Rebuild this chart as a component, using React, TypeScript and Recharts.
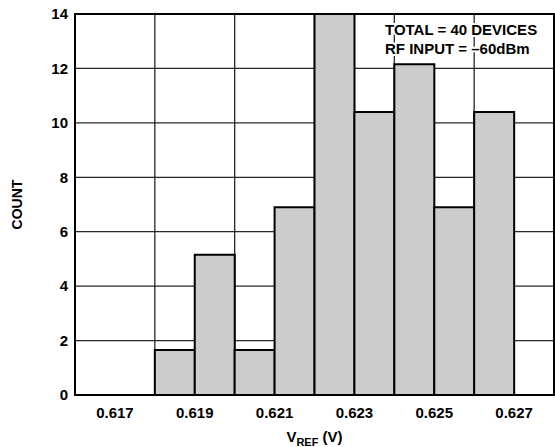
import { ComposedChart, Bar, XAxis, YAxis, CartesianGrid, ReferenceArea } from 'recharts';

// histogram bins, 1 mV wide, given by their centre voltage
const BIN_CENTERS = [0.6165, 0.6175, 0.6185, 0.6195, 0.6205, 0.6215, 0.6225, 0.6235, 0.6245, 0.6255, 0.6265, 0.6275];
const COUNTS = [0, 0, 1.65, 5.15, 1.65, 6.9, 14, 10.4, 12.15, 6.9, 10.4, 0];

const X_DOMAIN = [0.616, 0.628];
const X_TICKS = [0.617, 0.619, 0.621, 0.623, 0.625, 0.627];
const X_GRID = [0.618, 0.62, 0.622, 0.624, 0.626];
const Y_DOMAIN = [0, 14];
const Y_TICKS = [0, 2, 4, 6, 8, 10, 12, 14];
const Y_GRID = [2, 4, 6, 8, 10, 12];

const NOTES = ['TOTAL = 40 DEVICES', 'RF INPUT = \u201360dBm'];

const FONT = '"Liberation Sans", Arial, sans-serif';

const data = BIN_CENTERS.map((v, i) => ({ v, count: COUNTS[i] }));

const tickStyle = { fontSize: 15, fontWeight: 700, fill: '#000', fontFamily: FONT };

function XLabel(props: any) {
  const vb = props.viewBox;
  return (
    <text
      x={vb.x + vb.width / 2}
      y={vb.y + 47}
      textAnchor="middle"
      fontFamily={FONT}
      fontWeight={700}
      fontSize={15}
      fill="#000"
    >
      V
      <tspan fontSize={11} dy={4}>REF</tspan>
      <tspan dy={-4}> (V)</tspan>
    </text>
  );
}

function YLabel(props: any) {
  const vb = props.viewBox;
  const cx = 22;
  const cy = vb.y + vb.height / 2;
  return (
    <text
      x={cx}
      y={cy}
      transform={`rotate(-90 ${cx} ${cy})`}
      textAnchor="middle"
      fontFamily={FONT}
      fontWeight={700}
      fontSize={14}
      fill="#000"
    >
      COUNT
    </text>
  );
}

export default function App() {
  return (
    <div style={{ position: 'absolute', left: 0, top: 0, background: '#fff' }}>
      <ComposedChart
        width={555}
        height={447}
        data={data}
        margin={{ top: 14, right: 1, left: 0, bottom: 0 }}
        barCategoryGap={0}
        barGap={0}
      >
        <CartesianGrid
          verticalValues={X_GRID}
          horizontalValues={Y_GRID}
          stroke="#000"
          strokeWidth={1.3}
          strokeOpacity={0.85}
        />
        <XAxis
          dataKey="v"
          type="number"
          domain={X_DOMAIN}
          ticks={X_TICKS}
          tickCount={13}
          allowDataOverflow
          tickFormatter={(t: number) => t.toFixed(3)}
          height={52}
          tickLine={false}
          tickSize={0}
          tickMargin={12}
          axisLine={{ stroke: '#000', strokeWidth: 2 }}
          tick={tickStyle}
          label={(p: any) => <XLabel {...p} />}
        />
        <YAxis
          type="number"
          domain={Y_DOMAIN}
          ticks={Y_TICKS}
          width={75}
          tickLine={false}
          tickSize={0}
          tickMargin={7}
          axisLine={{ stroke: '#000', strokeWidth: 2 }}
          tick={tickStyle}
          label={(p: any) => <YLabel {...p} />}
        />
        <Bar dataKey="count" fill="#cccccc" stroke="#000" strokeWidth={2} isAnimationActive={false} />
        <ReferenceArea
          x1={X_DOMAIN[0]}
          x2={X_DOMAIN[1]}
          y1={Y_DOMAIN[0]}
          y2={Y_DOMAIN[1]}
          fill="none"
          stroke="#000"
          strokeWidth={2}
        />
        <g>
          {NOTES.map((n, i) => (
            <text
              key={n}
              x={385}
              y={35 + i * 19}
              fontFamily={FONT}
              fontWeight={700}
              fontSize={15}
              fill="#000"
              stroke="#fff"
              strokeWidth={4}
              paintOrder="stroke"
            >
              {n}
            </text>
          ))}
        </g>
      </ComposedChart>
    </div>
  );
}
